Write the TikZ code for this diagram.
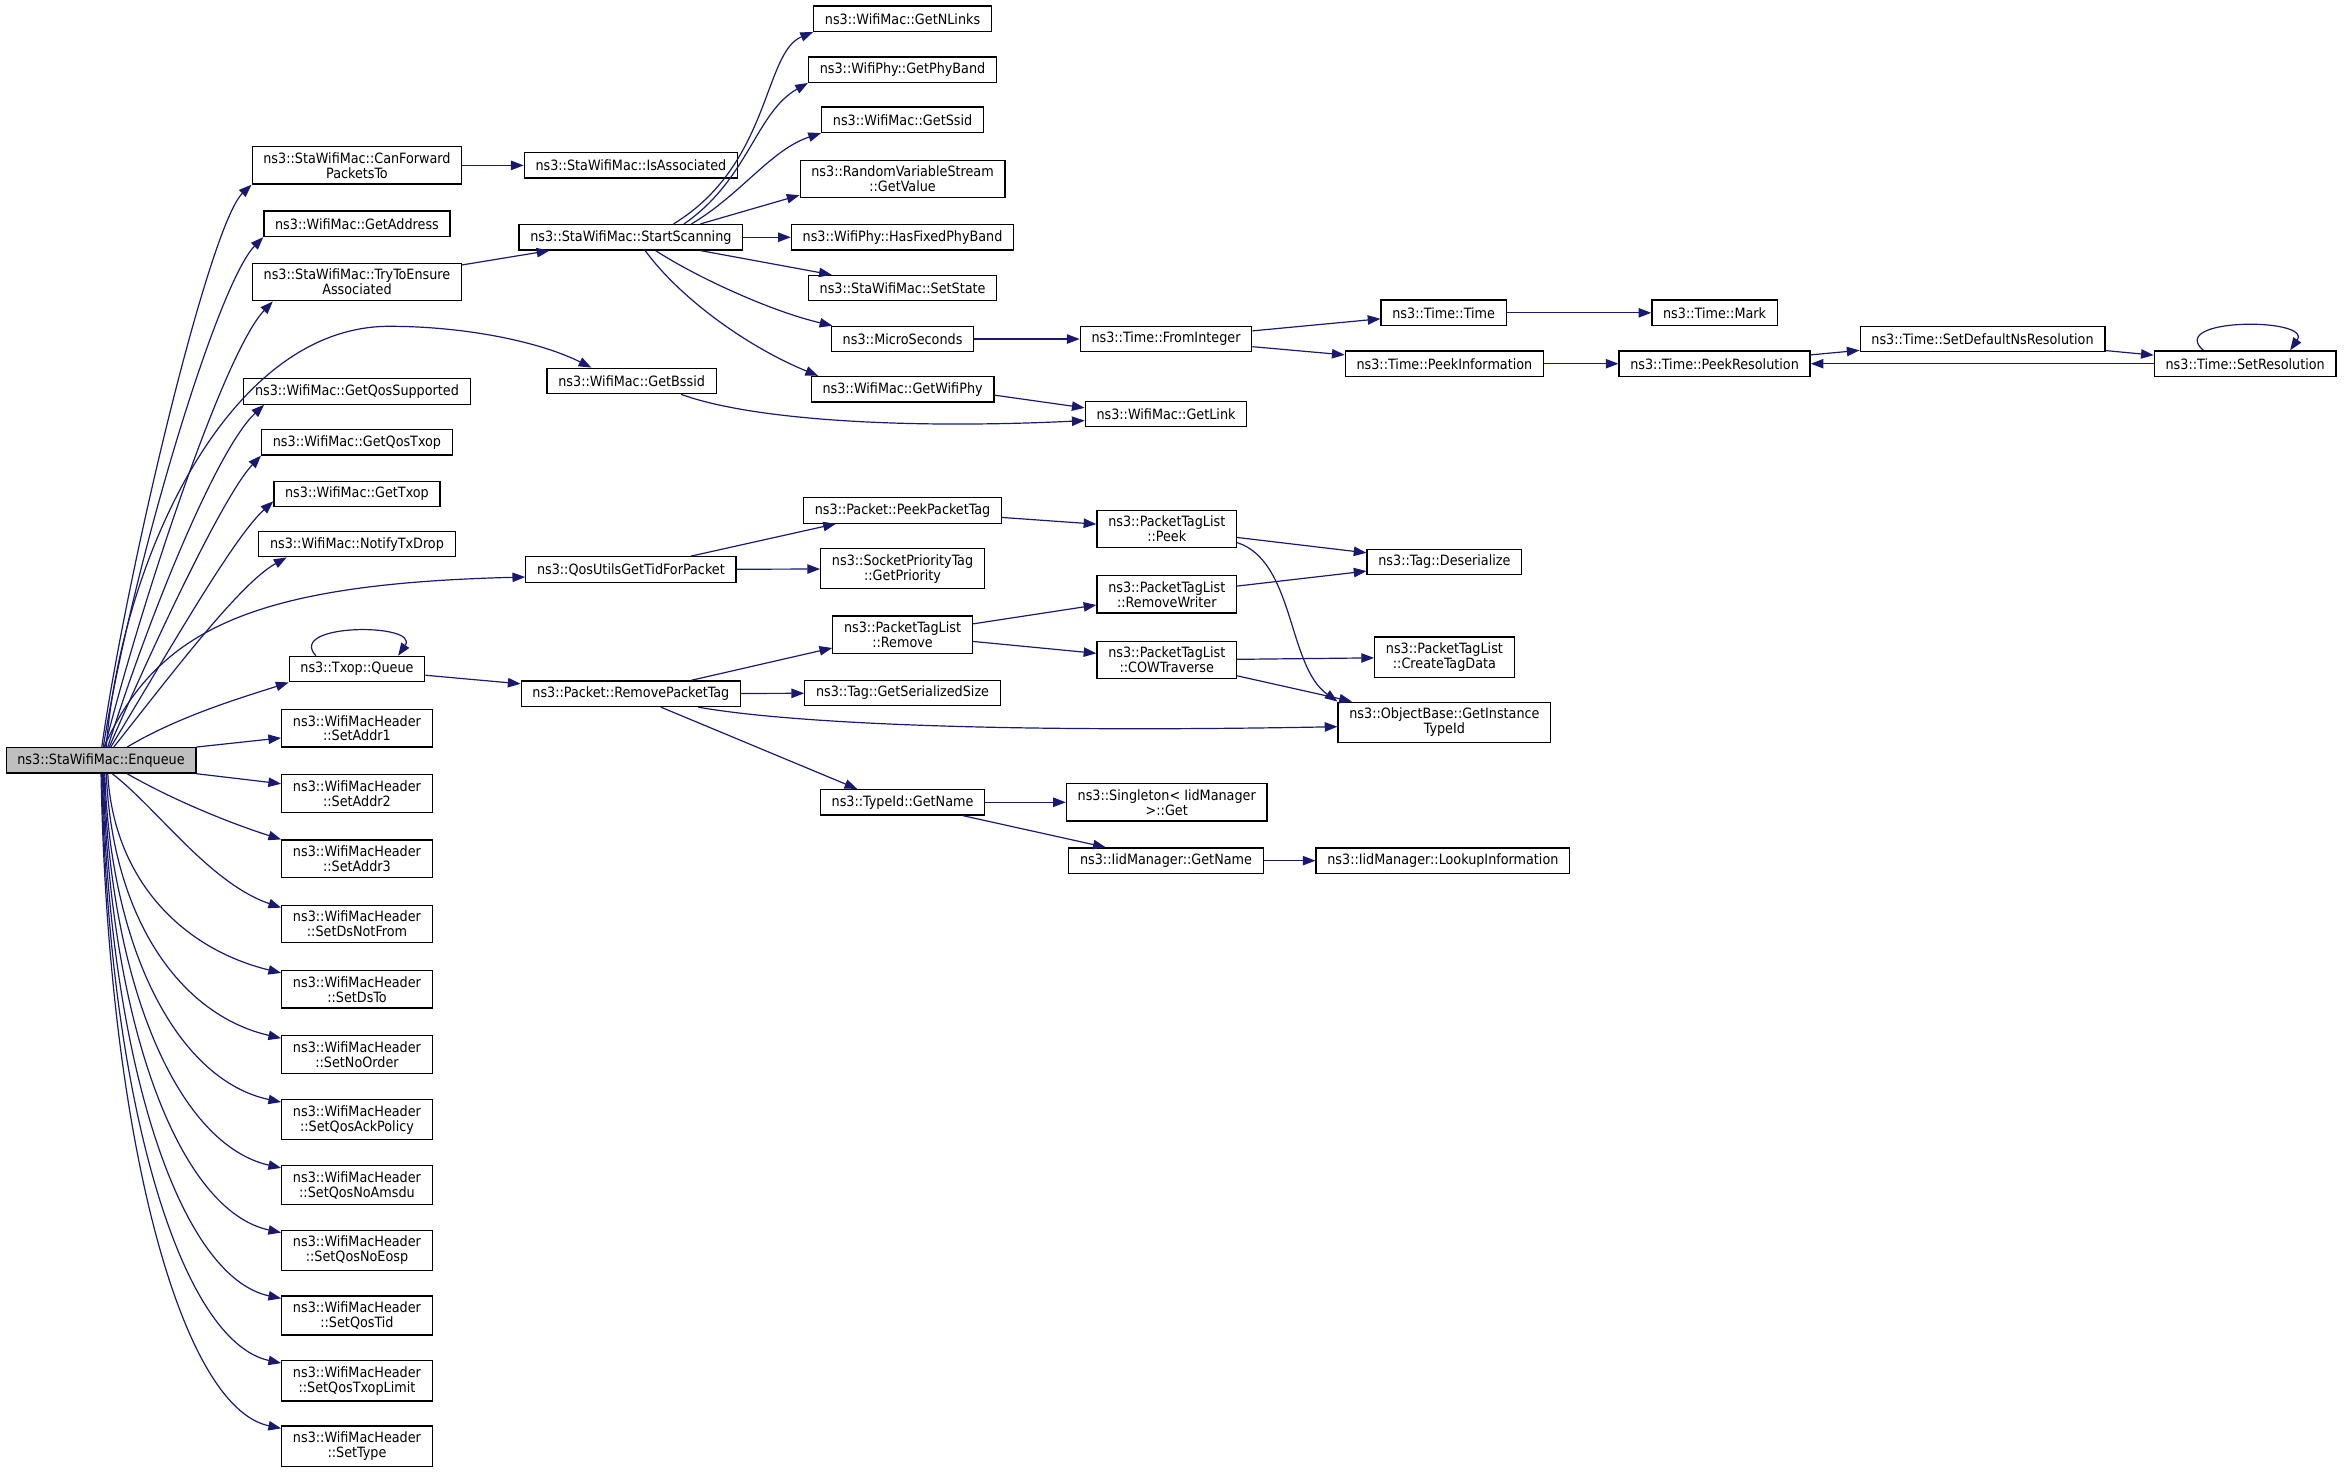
\documentclass[tikz,border=0pt]{standalone}
\usepackage{fontspec}
\setmainfont{DejaVu Sans Condensed}
\usepackage{tikz}
\usetikzlibrary{shapes,arrows.meta,positioning}
\definecolor{edgeblue}{RGB}{25,25,112}
\definecolor{callergray}{RGB}{191,191,191}
\tikzstyle{func} = [rectangle, draw=black, fill=white, line width=0.85pt, inner xsep=7.5pt, inner ysep=3.8pt, minimum height=17pt, align=center, font=\fontsize{9.5}{10}\selectfont]
\tikzstyle{arrow} = [line width=0.8pt, draw=edgeblue, ->, >={Triangle[length=8.5pt,width=6.3pt]}]

\begin{document}
\begin{tikzpicture}[x=1pt, y=-1pt, node distance=43.6pt]
\useasboundingbox (0,0) rectangle (1568,984);

    \node (enq) [func, fill=callergray] at (67.5,508) {ns3::StaWifiMac::Enqueue};

    \node (cfw) [func] at (238.5,110.5) {ns3::StaWifiMac::CanForward\\PacketsTo};
    \node (gaddr) [func] at (238.5,149.5) {ns3::WifiMac::GetAddress};
    \node (tte) [func] at (238.5,188.5) {ns3::StaWifiMac::TryToEnsure\\Associated};
    \node (gqs) [func] at (238.5,261.5) {ns3::WifiMac::GetQosSupported};
    \node (gqtx) [func] at (238.5,295.5) {ns3::WifiMac::GetQosTxop};
    \node (gtx) [func] at (238.5,330) {ns3::WifiMac::GetTxop};
    \node (ntd) [func] at (238.5,363.5) {ns3::WifiMac::NotifyTxDrop};
    \node (queue) [func] at (238.5,447) {ns3::Txop::Queue};
    \node (sa1) [func] at (238.5,486.5) {ns3::WifiMacHeader\\::SetAddr1};
    \node (sa2) [func, below of=sa1] {ns3::WifiMacHeader\\::SetAddr2};
    \node (sa3) [func, below of=sa2] {ns3::WifiMacHeader\\::SetAddr3};
    \node (sdnf) [func, below of=sa3] {ns3::WifiMacHeader\\::SetDsNotFrom};
    \node (sdst) [func, below of=sdnf] {ns3::WifiMacHeader\\::SetDsTo};
    \node (sno) [func, below of=sdst] {ns3::WifiMacHeader\\::SetNoOrder};
    \node (sqap) [func, below of=sno] {ns3::WifiMacHeader\\::SetQosAckPolicy};
    \node (sqna) [func, below of=sqap] {ns3::WifiMacHeader\\::SetQosNoAmsdu};
    \node (sqne) [func, below of=sqna] {ns3::WifiMacHeader\\::SetQosNoEosp};
    \node (sqt) [func, below of=sqne] {ns3::WifiMacHeader\\::SetQosTid};
    \node (sqtl) [func, below of=sqt] {ns3::WifiMacHeader\\::SetQosTxopLimit};
    \node (styp) [func, below of=sqtl] {ns3::WifiMacHeader\\::SetType};

    \node (isa) [func] at (421.5,110.5) {ns3::StaWifiMac::IsAssociated};
    \node (stsc) [func] at (421.5,158.5) {ns3::StaWifiMac::StartScanning};
    \node (gbssid) [func] at (422,254.5) {ns3::WifiMac::GetBssid};
    \node (qutid) [func] at (421.5,380.5) {ns3::QosUtilsGetTidForPacket};
    \node (rpt) [func] at (421.5,463.5) {ns3::Packet::RemovePacketTag};

    \node (gnl) [func] at (603,12.5) {ns3::WifiMac::GetNLinks};
    \node (gpb) [func] at (603,46.5) {ns3::WifiPhy::GetPhyBand};
    \node (gssid) [func] at (603,80) {ns3::WifiMac::GetSsid};
    \node (rvs) [func] at (603,119.5) {ns3::RandomVariableStream\\::GetValue};
    \node (hfp) [func] at (603,158.5) {ns3::WifiPhy::HasFixedPhyBand};
    \node (sst) [func] at (603,192.5) {ns3::StaWifiMac::SetState};
    \node (mus) [func] at (603,226.5) {ns3::MicroSeconds};
    \node (gwp) [func] at (603,260) {ns3::WifiMac::GetWifiPhy};
    \node (ppt) [func] at (603,341) {ns3::Packet::PeekPacketTag};
    \node (spt) [func] at (603,380) {ns3::SocketPriorityTag\\::GetPriority};
    \node (ptlr) [func] at (603,424) {ns3::PacketTagList\\::Remove};
    \node (tgss) [func] at (603,463) {ns3::Tag::GetSerializedSize};
    \node (tgn) [func] at (603,536) {ns3::TypeId::GetName};

    \node (fint) [func] at (779,226.5) {ns3::Time::FromInteger};
    \node (glink) [func] at (779,276.5) {ns3::WifiMac::GetLink};
    \node (ptlp) [func] at (779.5,353.5) {ns3::PacketTagList\\::Peek};
    \node (ptlrw) [func] at (779.5,397) {ns3::PacketTagList\\::RemoveWriter};
    \node (ptlc) [func] at (779.5,441) {ns3::PacketTagList\\::COWTraverse};
    \node (sgl) [func] at (779.5,536) {ns3::Singleton< IidManager\\>::Get};
    \node (igname) [func] at (779,575) {ns3::IidManager::GetName};

    \node (ttime) [func] at (964.5,209) {ns3::Time::Time};
    \node (pinf) [func] at (965,243) {ns3::Time::PeekInformation};
    \node (tdes) [func] at (965,375.5) {ns3::Tag::Deserialize};
    \node (ctd) [func] at (965,439) {ns3::PacketTagList\\::CreateTagData};
    \node (obti) [func] at (965,482.5) {ns3::ObjectBase::GetInstance\\TypeId};
    \node (lkup) [func] at (964,575) {ns3::IidManager::LookupInformation};

    \node (mark) [func] at (1145.5,209) {ns3::Time::Mark};
    \node (pres) [func] at (1145.5,243) {ns3::Time::PeekResolution};
    \node (sdns) [func] at (1324.5,226.5) {ns3::Time::SetDefaultNsResolution};
    \node (sres) [func] at (1500,243) {ns3::Time::SetResolution};

    \draw[arrow] ([xshift=0.5pt]enq.north) .. controls (85,380) and (140,150) .. (cfw.south west);
    \draw[arrow] ([xshift=1.5pt]enq.north) .. controls (88,380) and (145,190) .. (gaddr.south west);
    \draw[arrow] ([xshift=2.5pt]enq.north) .. controls (95,400) and (150,235) .. ([xshift=14pt]tte.south west);
    \draw[arrow] ([xshift=3.5pt]enq.north) .. controls (80,380) and (150,218) .. (260,218) .. controls (310,218) and (360,228) .. ([xshift=30pt]gbssid.north west);
    \draw[arrow] ([xshift=4.5pt]enq.north) .. controls (100,410) and (145,300) .. ([xshift=14pt]gqs.south west);
    \draw[arrow] ([xshift=5.5pt]enq.north) .. controls (105,425) and (150,330) .. (gqtx.south west);
    \draw[arrow] ([xshift=6.5pt]enq.north) .. controls (110,440) and (155,360) .. ([yshift=4pt]gtx.south west);
    \draw[arrow] ([xshift=8.5pt]enq.north) .. controls (115,450) and (160,390) .. ([xshift=19pt]ntd.south west);
    \draw[arrow] ([xshift=2pt]enq.north) .. controls (105,420) and (170,390) .. ([yshift=-5pt]qutid.west);
    \draw[arrow] ([xshift=17.5pt]enq.north) .. controls (120,478) and (165,465) .. (queue.south west);
    \draw[arrow] (enq.north east) -- ([yshift=-6.5pt]sa1.west);
    \draw[arrow] (enq.south east) -- ([yshift=6.5pt]sa2.west);
    \draw[arrow] ([xshift=17.5pt]enq.south) .. controls (120,537) and (160,552) .. (sa3.north west);
    \draw[arrow] ([xshift=7.5pt]enq.south) .. controls (105,540) and (140,590) .. ([yshift=-2pt]sdnf.north west);
    \draw[arrow] ([xshift=4.5pt]enq.south) .. controls (76,588) and (122,634) .. ([yshift=-2pt]sdst.north west);
    \draw[arrow] ([xshift=3.5pt]enq.south) .. controls (75,613) and (120,678) .. ([yshift=-2pt]sno.north west);
    \draw[arrow] ([xshift=2.5pt]enq.south) .. controls (74,637) and (120,722) .. ([yshift=-2pt]sqap.north west);
    \draw[arrow] ([xshift=2pt]enq.south) .. controls (73.5,661) and (120,765) .. ([yshift=-2pt]sqna.north west);
    \draw[arrow] ([xshift=1.5pt]enq.south) .. controls (73,685) and (120,809) .. ([yshift=-2pt]sqne.north west);
    \draw[arrow] ([xshift=1pt]enq.south) .. controls (72.5,709) and (120,853) .. ([yshift=-2pt]sqt.north west);
    \draw[arrow] ([xshift=0.5pt]enq.south) .. controls (72,733) and (120,896) .. ([yshift=-2pt]sqtl.north west);
    \draw[arrow] (enq.south) .. controls (72,757) and (120,940) .. ([yshift=-2pt]styp.north west);

    \draw[arrow] (cfw) -- (isa);
    \draw[arrow] (tte) -- (stsc);
    \draw[arrow] ([xshift=-27.5pt]queue.north) .. controls +(-20,-22) and +(15,-22) .. ([xshift=27.5pt]queue.north);
    \draw[arrow] (queue) -- (rpt);

    \draw[arrow] ([xshift=28.5pt]stsc.north) .. controls (515,110) and (510,35) .. (gnl.south west);
    \draw[arrow] ([xshift=35.5pt]stsc.north) .. controls (500,120) and (505,75) .. (gpb.south west);
    \draw[arrow] ([xshift=40.5pt]stsc.north) .. controls (495,130) and (515,100) .. (gssid.south west);
    \draw[arrow] ([xshift=46.5pt]stsc.north) -- ([yshift=2pt]rvs.south west);
    \draw[arrow] (stsc) -- (hfp);
    \draw[arrow] ([xshift=46.5pt]stsc.south) -- ([xshift=16pt]sst.north west);
    \draw[arrow] ([xshift=16.5pt]stsc.south) .. controls (465,185) and (515,208) .. ([xshift=1pt]mus.north west);
    \draw[arrow] ([xshift=9.5pt]stsc.south) .. controls (455,200) and (500,232) .. ([xshift=5pt]gwp.north west);
    \draw[arrow] ([xshift=33pt]gbssid.south) .. controls (500,280) and (600,287) .. ([yshift=-4.5pt]glink.west);
    \draw[arrow] ([yshift=-4pt]gwp.east) -- ([yshift=4pt]glink.west);

    \draw[arrow] (mus) -- (fint);
    \draw[arrow] (fint) -- (ttime);
    \draw[arrow] (fint) -- (pinf);
    \draw[arrow] (ttime) -- (mark);
    \draw[arrow] (pinf) -- (pres);
    \draw[arrow] (pres) -- (sdns);
    \draw[arrow] (sdns) -- (sres);
    \draw[arrow] (sres) -- (pres);
    \draw[arrow] ([xshift=-28pt]sres.north) .. controls +(-25,-22) and +(15,-22) .. ([xshift=30pt]sres.north);

    \draw[arrow] ([xshift=40pt]qutid.north) -- ([xshift=22pt]ppt.south west);
    \draw[arrow] (qutid) -- (spt);
    \draw[arrow] ([xshift=40pt]rpt.north) -- ([yshift=4pt]ptlr.south west);
    \draw[arrow] (rpt) -- (tgss);
    \draw[arrow] ([xshift=45pt]rpt.south) .. controls (520,482) and (650,490) .. ([yshift=-3pt]obti.west);
    \draw[arrow] ([xshift=20pt]rpt.south) -- ([xshift=25pt]tgn.north west);

    \draw[arrow] (ppt) -- (ptlp);
    \draw[arrow] (ptlp) -- (tdes);
    \draw[arrow] ([yshift=-9pt]ptlp.east) .. controls (865,375) and (860,445) .. (obti.north west);
    \draw[arrow] (ptlr) -- (ptlrw);
    \draw[arrow] (ptlr) -- (ptlc);
    \draw[arrow] (ptlrw) -- (tdes);
    \draw[arrow] (ptlc) -- (ctd);
    \draw[arrow] (ptlc) -- (obti);
    \draw[arrow] (tgn) -- (sgl);
    \draw[arrow] (tgn) -- (igname);
    \draw[arrow] (igname) -- (lkup);

\end{tikzpicture}
\end{document}
